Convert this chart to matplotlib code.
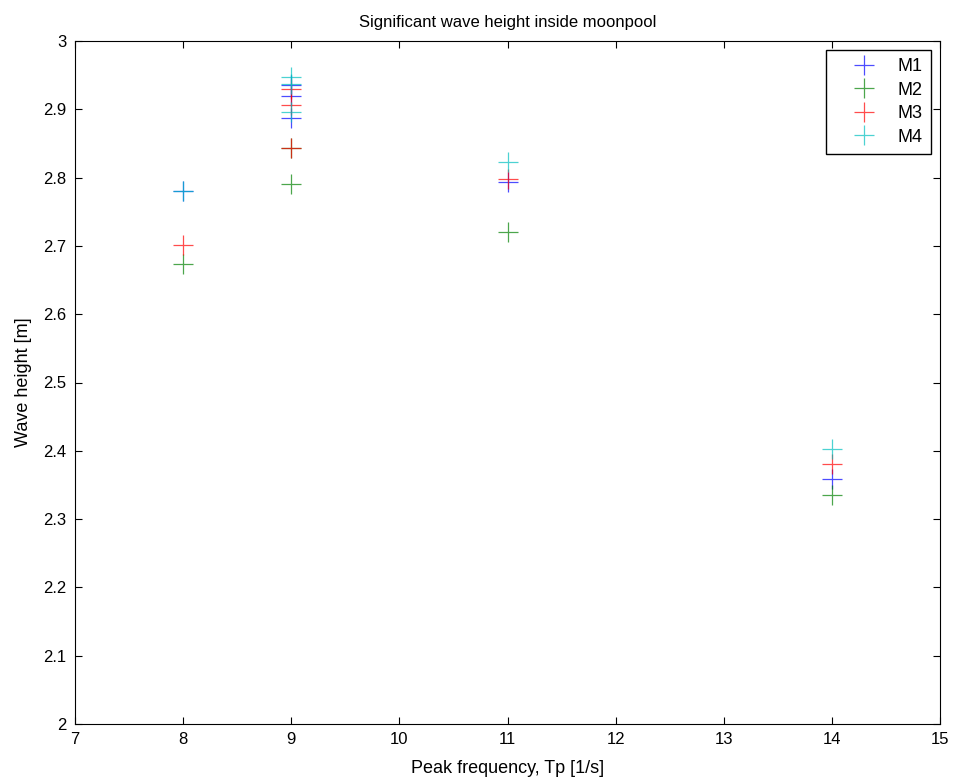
import matplotlib
matplotlib.use("Agg")
import matplotlib.pyplot as plt

plt.rcParams['font.family'] = ['Liberation Sans', 'DejaVu Sans']

series = ["M1", "M2", "M3", "M4"]
colors = ["#0000ff", "#008000", "#ff0000", "#00bfbf"]

m1_x = [8, 9, 9, 9, 11, 14]
m1_y = [2.780, 2.935, 2.919, 2.887, 2.793, 2.359]
m2_x = [8, 9, 9, 11, 14]
m2_y = [2.674, 2.843, 2.790, 2.720, 2.336]
m3_x = [8, 9, 9, 9, 11, 14]
m3_y = [2.701, 2.929, 2.907, 2.843, 2.798, 2.381]
m4_x = [8, 9, 9, 9, 11, 14]
m4_y = [2.780, 2.948, 2.937, 2.896, 2.823, 2.402]

xs = [m1_x, m2_x, m3_x, m4_x]
ys = [m1_y, m2_y, m3_y, m4_y]

W, H = 956, 781
fig = plt.figure(figsize=(W / 100, H / 100), dpi=100)
ax = fig.add_axes([75 / W, 1 - 724 / H, (940 - 75) / W, (724 - 41) / H])

for x, y, c, name in zip(xs, ys, colors, series):
    ax.plot(x, y, linestyle='none', marker='+', markersize=14, markeredgewidth=0.9,
            color=c, alpha=0.7, label=name)

ax.set_xlim(7, 15)
ax.set_ylim(2, 3)
ax.set_xticks(range(7, 16))
ax.set_yticks([2 + i * 0.1 for i in range(11)])
ax.set_yticklabels(["2", "2.1", "2.2", "2.3", "2.4", "2.5", "2.6", "2.7", "2.8", "2.9", "3"])
ax.tick_params(direction='in', top=True, right=True, labelsize=12, length=5, width=0.8, pad=6)
for s in ax.spines.values():
    s.set_linewidth(0.8)

ax.set_title("Significant wave height inside moonpool", fontsize=12, pad=10)
ax.set_xlabel("Peak frequency, Tp [1/s]", fontsize=13, labelpad=9)
ax.set_ylabel("Wave height [m]", fontsize=13, labelpad=8)

leg = ax.legend(loc='upper right', bbox_to_anchor=(931 / W, 1 - 50 / H),
                bbox_transform=fig.transFigure, borderaxespad=0,
                fontsize=13, fancybox=False, framealpha=1,
                edgecolor='black', markerscale=1.0, handlelength=3.4,
                labelspacing=0.36, borderpad=0.45, handletextpad=0.15)
leg.get_frame().set_linewidth(1.0)

fig.savefig("out.png", dpi=100)
